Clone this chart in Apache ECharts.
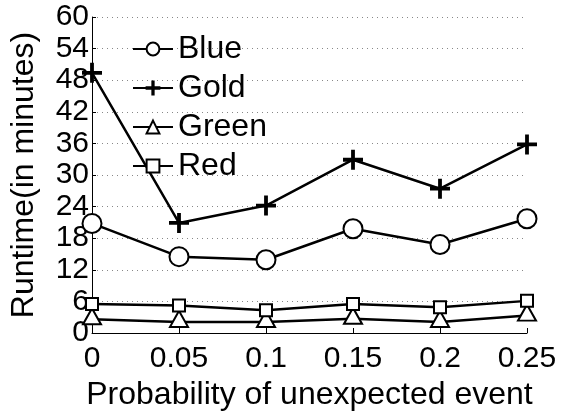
<!DOCTYPE html>
<html>
<head>
<meta charset="utf-8">
<script src="https://cdn.jsdelivr.net/npm/echarts@6/dist/echarts.min.js"></script>
<style>
  html, body { margin: 0; padding: 0; background: #fff; }
  #chart { width: 561px; height: 416px; }
</style>
</head>
<body>
<div id="chart"></div>
<script>
// Probability values along the x axis
const categories = ['0', '0.05', '0.1', '0.15', '0.2', '0.25'];

// Runtime in minutes for each approach
const blue  = [20.8, 14.5, 13.9, 19.8, 16.8, 21.7];
const gold  = [49.4, 20.9, 24.2, 32.9, 27.4, 35.8];
const green = [2.6, 2.1, 2.1, 2.7, 2.1, 3.3];
const red   = [5.5, 5.2, 4.3, 5.5, 4.9, 6.1];

// Y axis range and step
const yMin = 0, yMax = 60, yStep = 6;

const FONT = 'Liberation Sans, Arial, Helvetica, sans-serif';
const PLUS = 'path://M0,9H20V11H0ZM9,0H11V20H9Z';

function lineSeries(name, data, symbol, size, extra) {
  return Object.assign({
    name: name,
    type: 'line',
    data: data,
    symbol: symbol,
    symbolSize: size,
    showAllSymbol: true,
    lineStyle: { color: '#000', width: 2.5 },
    itemStyle: { color: '#000', borderColor: '#000', borderWidth: 2 },
    emphasis: { disabled: true },
    animation: false
  }, extra || {});
}

const chart = echarts.init(document.getElementById('chart'), null, { renderer: 'canvas' });
chart.setOption({
  backgroundColor: '#fff',
  animation: false,
  grid: { left: 90, right: 34, top: 17, bottom: 72, containLabel: false },
  legend: {
    orient: 'vertical',
    left: 132,
    top: 33,
    padding: 0,
    itemWidth: 40,
    itemHeight: 16,
    itemGap: 7,
    textStyle: { fontFamily: FONT, fontSize: 32, color: '#000', padding: [0, 0, 0, 0] },
    data: ['Blue', 'Gold', 'Green', 'Red']
  },
  xAxis: {
    type: 'category',
    data: categories,
    boundaryGap: false,
    name: 'Probability of unexpected event',
    nameLocation: 'middle',
    nameGap: 46,
    nameTextStyle: { fontFamily: FONT, fontSize: 32, color: '#000' },
    axisLine: { lineStyle: { color: '#000', width: 1 } },
    axisTick: { inside: true, length: 5, alignWithLabel: true, lineStyle: { color: '#000' } },
    axisLabel: { fontFamily: FONT, fontSize: 30, color: '#000', margin: 11 },
    splitLine: { show: false }
  },
  yAxis: {
    type: 'value',
    min: yMin,
    max: yMax,
    interval: yStep,
    name: 'Runtime(in minutes)',
    nameLocation: 'middle',
    nameGap: 52,
    nameTextStyle: { fontFamily: FONT, fontSize: 32, color: '#000' },
    axisLine: { show: true, lineStyle: { color: '#000', width: 1 } },
    axisTick: { show: true, inside: true, length: 4, lineStyle: { color: '#000' } },
    axisLabel: { fontFamily: FONT, fontSize: 30, color: '#000', margin: 3 },
    splitLine: { show: true, lineStyle: { color: '#888', width: 1, type: [1, 4] } }
  },
  series: [
    lineSeries('Blue', blue, 'emptyCircle', 19),
    lineSeries('Gold', gold, PLUS, 18),
    lineSeries('Green', green, 'emptyTriangle', [18, 16], { symbolOffset: [0, -3] }),
    lineSeries('Red', red, 'emptyRect', 12)
  ]
});
</script>
</body>
</html>
